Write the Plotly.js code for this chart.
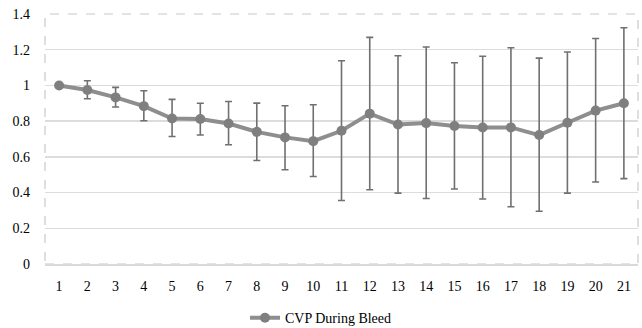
<!DOCTYPE html>
<html>
<head>
<meta charset="utf-8">
<script src="https://cdn.plot.ly/plotly-3.0.1.min.js"></script>
<style>html,body{margin:0;padding:0;background:#fff;}#chart{width:642px;height:328px;}</style>
</head>
<body>
<div id="chart"></div>
<script>
var categories = ["1","2","3","4","5","6","7","8","9","10","11","12","13","14","15","16","17","18","19","20","21"];
var cvpMean = [1.00,0.974,0.933,0.884,0.815,0.812,0.787,0.740,0.709,0.688,0.746,0.842,0.781,0.789,0.773,0.764,0.765,0.722,0.791,0.859,0.900];
var errPlus = [0.0,0.052,0.056,0.086,0.107,0.088,0.123,0.161,0.177,0.204,0.392,0.427,0.385,0.426,0.354,0.399,0.446,0.431,0.396,0.404,0.423];
var errMinus = [0.0,0.049,0.054,0.082,0.101,0.090,0.119,0.160,0.181,0.198,0.390,0.426,0.384,0.422,0.353,0.400,0.444,0.427,0.394,0.400,0.422];
var seriesName = "CVP During Bleed";

var trace = {
  x: categories,
  y: cvpMean,
  type: "scatter",
  mode: "lines+markers",
  name: seriesName,
  line: {color: "#8e8e8e", width: 4},
  marker: {color: "#7f7f7f", size: 10},
  error_y: {type: "data", symmetric: false, array: errPlus, arrayminus: errMinus,
            color: "#707070", thickness: 1.6, width: 3.5, visible: true}
};

var layout = {
  width: 642, height: 328,
  margin: {l: 45, r: 4, t: 14, b: 64},
  paper_bgcolor: "#fff", plot_bgcolor: "#fff",
  font: {family: "'Liberation Serif', 'Times New Roman', serif", size: 14, color: "#000"},
  showlegend: true,
  legend: {orientation: "h", x: 0.5, xanchor: "center", xref: "container",
           y: 0.03, yanchor: "middle", yref: "container",
           font: {size: 14, color: "#000"}},
  xaxis: {type: "category", range: [-0.5, 20.5], showgrid: false, zeroline: false,
          showline: true, linecolor: "#d9d9d9", linewidth: 1.5, ticks: "",
          ticklabelstandoff: 9, fixedrange: true, automargin: false},
  yaxis: {range: [0, 1.4], dtick: 0.2, tick0: 0, showgrid: true, gridcolor: "#dcdcdc",
          gridwidth: 1.5, zeroline: false, showline: false, ticks: "",
          ticklabelstandoff: 14, fixedrange: true, automargin: false},
  shapes: [{type: "rect", xref: "paper", yref: "paper", x0: 0, x1: 1, y0: 0, y1: 1,
            line: {color: "#c8c8c8", width: 1.2, dash: "dash"}, layer: "below"}]
};

Plotly.newPlot("chart", [trace], layout, {displayModeBar: false, staticPlot: true});
</script>
</body>
</html>
